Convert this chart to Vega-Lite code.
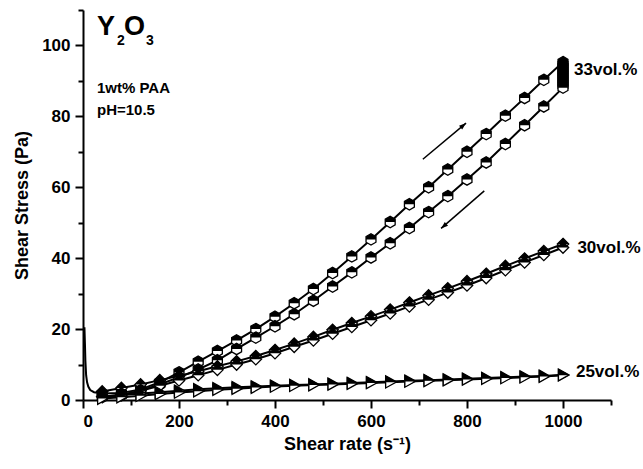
{
"$schema": "https://vega.github.io/schema/vega-lite/v6.json",
"width": 528, "height": 390,
"autosize": {"type": "none"},
"padding": {"left": 83, "top": 10, "right": 32, "bottom": 69},
"background": "white",
"config": {
 "view": {"stroke": null},
 "font": "Liberation Sans",
 "axis": {"grid": false, "domainColor": "black", "domainWidth": 2, "tickColor": "black", "tickWidth": 2, "labelColor": "black", "labelFont": "Liberation Sans", "labelFontWeight": "bold", "labelFontSize": 17, "titleFont": "Liberation Sans", "titleFontWeight": "bold", "titleFontSize": 18, "titleColor": "black"}
},
"datasets": {
 "curves": [
  {"s":"33","r":"u","i":40,"x":40,"y":1.8},{"s":"33","r":"u","i":80,"x":80,"y":2.0},{"s":"33","r":"u","i":120,"x":120,"y":3.0},{"s":"33","r":"u","i":160,"x":160,"y":5.0},{"s":"33","r":"u","i":200,"x":200,"y":7.8},{"s":"33","r":"u","i":240,"x":240,"y":10.8},{"s":"33","r":"u","i":280,"x":280,"y":13.8},{"s":"33","r":"u","i":320,"x":320,"y":16.8},{"s":"33","r":"u","i":360,"x":360,"y":20.0},{"s":"33","r":"u","i":400,"x":400,"y":23.5},{"s":"33","r":"u","i":440,"x":440,"y":27.3},{"s":"33","r":"u","i":480,"x":480,"y":31.3},{"s":"33","r":"u","i":520,"x":520,"y":35.8},{"s":"33","r":"u","i":560,"x":560,"y":40.5},{"s":"33","r":"u","i":600,"x":600,"y":45.3},{"s":"33","r":"u","i":640,"x":640,"y":50.2},{"s":"33","r":"u","i":680,"x":680,"y":55.2},{"s":"33","r":"u","i":720,"x":720,"y":60.0},{"s":"33","r":"u","i":760,"x":760,"y":65.0},{"s":"33","r":"u","i":800,"x":800,"y":70.0},{"s":"33","r":"u","i":840,"x":840,"y":75.0},{"s":"33","r":"u","i":880,"x":880,"y":80.2},{"s":"33","r":"u","i":920,"x":920,"y":85.2},{"s":"33","r":"u","i":960,"x":960,"y":90.3},{"s":"33","r":"u","i":1000,"x":1000,"y":95.3},
  {"s":"33","r":"u","i":1001,"x":1000,"y":94.7},{"s":"33","r":"u","i":1002,"x":1000,"y":94.1},{"s":"33","r":"u","i":1003,"x":1000,"y":93.5},{"s":"33","r":"u","i":1004,"x":1000,"y":92.9},{"s":"33","r":"u","i":1005,"x":1000,"y":92.3},{"s":"33","r":"u","i":1006,"x":1000,"y":91.7},{"s":"33","r":"u","i":1007,"x":1000,"y":91.1},{"s":"33","r":"u","i":1008,"x":1000,"y":90.5},{"s":"33","r":"u","i":1009,"x":1000,"y":89.9},{"s":"33","r":"u","i":1010,"x":1000,"y":89.3},{"s":"33","r":"u","i":1011,"x":1000,"y":88.7},
  {"s":"33","r":"d","i":2000,"x":1000,"y":88.1},{"s":"33","r":"d","i":2040,"x":960,"y":82.8},{"s":"33","r":"d","i":2080,"x":920,"y":77.5},{"s":"33","r":"d","i":2120,"x":880,"y":72.2},{"s":"33","r":"d","i":2160,"x":840,"y":67.0},{"s":"33","r":"d","i":2200,"x":800,"y":62.2},{"s":"33","r":"d","i":2240,"x":760,"y":57.5},{"s":"33","r":"d","i":2280,"x":720,"y":53.0},{"s":"33","r":"d","i":2320,"x":680,"y":48.5},{"s":"33","r":"d","i":2360,"x":640,"y":44.2},{"s":"33","r":"d","i":2400,"x":600,"y":40.2},{"s":"33","r":"d","i":2440,"x":560,"y":36.0},{"s":"33","r":"d","i":2480,"x":520,"y":32.0},{"s":"33","r":"d","i":2520,"x":480,"y":28.0},{"s":"33","r":"d","i":2560,"x":440,"y":24.2},{"s":"33","r":"d","i":2600,"x":400,"y":20.8},{"s":"33","r":"d","i":2640,"x":360,"y":17.6},{"s":"33","r":"d","i":2680,"x":320,"y":14.4},{"s":"33","r":"d","i":2720,"x":280,"y":11.2},{"s":"33","r":"d","i":2760,"x":240,"y":8.6},{"s":"33","r":"d","i":2800,"x":200,"y":6.4},{"s":"33","r":"d","i":2840,"x":160,"y":4.4},{"s":"33","r":"d","i":2880,"x":120,"y":2.6},{"s":"33","r":"d","i":2920,"x":80,"y":1.3},{"s":"33","r":"d","i":2960,"x":40,"y":0.8},
  {"s":"30","r":"u","i":40,"x":40,"y":2.4},{"s":"30","r":"u","i":80,"x":80,"y":3.4},{"s":"30","r":"u","i":120,"x":120,"y":4.4},{"s":"30","r":"u","i":160,"x":160,"y":5.6},{"s":"30","r":"u","i":200,"x":200,"y":6.8},{"s":"30","r":"u","i":240,"x":240,"y":8.1},{"s":"30","r":"u","i":280,"x":280,"y":9.5},{"s":"30","r":"u","i":320,"x":320,"y":10.9},{"s":"30","r":"u","i":360,"x":360,"y":12.4},{"s":"30","r":"u","i":400,"x":400,"y":14.1},{"s":"30","r":"u","i":440,"x":440,"y":15.9},{"s":"30","r":"u","i":480,"x":480,"y":17.8},{"s":"30","r":"u","i":520,"x":520,"y":19.8},{"s":"30","r":"u","i":560,"x":560,"y":21.7},{"s":"30","r":"u","i":600,"x":600,"y":23.6},{"s":"30","r":"u","i":640,"x":640,"y":25.5},{"s":"30","r":"u","i":680,"x":680,"y":27.5},{"s":"30","r":"u","i":720,"x":720,"y":29.5},{"s":"30","r":"u","i":760,"x":760,"y":31.5},{"s":"30","r":"u","i":800,"x":800,"y":33.5},{"s":"30","r":"u","i":840,"x":840,"y":35.6},{"s":"30","r":"u","i":880,"x":880,"y":37.8},{"s":"30","r":"u","i":920,"x":920,"y":39.9},{"s":"30","r":"u","i":960,"x":960,"y":42.0},{"s":"30","r":"u","i":1000,"x":1000,"y":44.0},
  {"s":"30","r":"d","i":2000,"x":1000,"y":43.0},{"s":"30","r":"d","i":2040,"x":960,"y":40.9},{"s":"30","r":"d","i":2080,"x":920,"y":38.8},{"s":"30","r":"d","i":2120,"x":880,"y":36.6},{"s":"30","r":"d","i":2160,"x":840,"y":34.4},{"s":"30","r":"d","i":2200,"x":800,"y":32.3},{"s":"30","r":"d","i":2240,"x":760,"y":30.3},{"s":"30","r":"d","i":2280,"x":720,"y":28.3},{"s":"30","r":"d","i":2320,"x":680,"y":26.4},{"s":"30","r":"d","i":2360,"x":640,"y":24.4},{"s":"30","r":"d","i":2400,"x":600,"y":22.5},{"s":"30","r":"d","i":2440,"x":560,"y":20.6},{"s":"30","r":"d","i":2480,"x":520,"y":18.7},{"s":"30","r":"d","i":2520,"x":480,"y":16.8},{"s":"30","r":"d","i":2560,"x":440,"y":15.0},{"s":"30","r":"d","i":2600,"x":400,"y":13.2},{"s":"30","r":"d","i":2640,"x":360,"y":11.5},{"s":"30","r":"d","i":2680,"x":320,"y":10.0},{"s":"30","r":"d","i":2720,"x":280,"y":8.5},{"s":"30","r":"d","i":2760,"x":240,"y":7.0},{"s":"30","r":"d","i":2800,"x":200,"y":5.5},{"s":"30","r":"d","i":2840,"x":160,"y":4.0},{"s":"30","r":"d","i":2880,"x":120,"y":2.6},{"s":"30","r":"d","i":2920,"x":80,"y":1.5},{"s":"30","r":"d","i":2960,"x":40,"y":0.9},
  {"s":"25","r":"u","i":40,"x":40,"y":0.9},{"s":"25","r":"u","i":80,"x":80,"y":1.4},{"s":"25","r":"u","i":120,"x":120,"y":1.8},{"s":"25","r":"u","i":160,"x":160,"y":2.2},{"s":"25","r":"u","i":200,"x":200,"y":2.6},{"s":"25","r":"u","i":240,"x":240,"y":3.0},{"s":"25","r":"u","i":280,"x":280,"y":3.3},{"s":"25","r":"u","i":320,"x":320,"y":3.6},{"s":"25","r":"u","i":360,"x":360,"y":3.8},{"s":"25","r":"u","i":400,"x":400,"y":4.0},{"s":"25","r":"u","i":440,"x":440,"y":4.2},{"s":"25","r":"u","i":480,"x":480,"y":4.4},{"s":"25","r":"u","i":520,"x":520,"y":4.6},{"s":"25","r":"u","i":560,"x":560,"y":4.8},{"s":"25","r":"u","i":600,"x":600,"y":5.0},{"s":"25","r":"u","i":640,"x":640,"y":5.2},{"s":"25","r":"u","i":680,"x":680,"y":5.4},{"s":"25","r":"u","i":720,"x":720,"y":5.6},{"s":"25","r":"u","i":760,"x":760,"y":5.8},{"s":"25","r":"u","i":800,"x":800,"y":6.0},{"s":"25","r":"u","i":840,"x":840,"y":6.2},{"s":"25","r":"u","i":880,"x":880,"y":6.4},{"s":"25","r":"u","i":920,"x":920,"y":6.6},{"s":"25","r":"u","i":960,"x":960,"y":6.8},{"s":"25","r":"u","i":1000,"x":1000,"y":7.1},
  {"s":"25","r":"d","i":2000,"x":1000,"y":7.0},{"s":"25","r":"d","i":2040,"x":960,"y":6.6},{"s":"25","r":"d","i":2080,"x":920,"y":6.4},{"s":"25","r":"d","i":2120,"x":880,"y":6.2},{"s":"25","r":"d","i":2160,"x":840,"y":6.0},{"s":"25","r":"d","i":2200,"x":800,"y":5.8},{"s":"25","r":"d","i":2240,"x":760,"y":5.6},{"s":"25","r":"d","i":2280,"x":720,"y":5.4},{"s":"25","r":"d","i":2320,"x":680,"y":5.2},{"s":"25","r":"d","i":2360,"x":640,"y":5.0},{"s":"25","r":"d","i":2400,"x":600,"y":4.8},{"s":"25","r":"d","i":2440,"x":560,"y":4.6},{"s":"25","r":"d","i":2480,"x":520,"y":4.4},{"s":"25","r":"d","i":2520,"x":480,"y":4.2},{"s":"25","r":"d","i":2560,"x":440,"y":4.0},{"s":"25","r":"d","i":2600,"x":400,"y":3.8},{"s":"25","r":"d","i":2640,"x":360,"y":3.5},{"s":"25","r":"d","i":2680,"x":320,"y":3.2},{"s":"25","r":"d","i":2720,"x":280,"y":2.9},{"s":"25","r":"d","i":2760,"x":240,"y":2.5},{"s":"25","r":"d","i":2800,"x":200,"y":2.1},{"s":"25","r":"d","i":2840,"x":160,"y":1.7},{"s":"25","r":"d","i":2880,"x":120,"y":1.2},{"s":"25","r":"d","i":2920,"x":80,"y":0.8},{"s":"25","r":"d","i":2960,"x":40,"y":0.4}
 ],
 "spike": [
  {"x":3,"y":20.5},{"x":4,"y":16},{"x":5,"y":11},{"x":6.5,"y":7},{"x":8.5,"y":5},{"x":11,"y":3.8},{"x":15,"y":2.8},{"x":23,"y":2.2},{"x":40,"y":1.8}
 ],
 "arrows": [
  {"d":"up","x":708,"y":67.9,"x2":798,"y2":78.1},
  {"d":"down","x":836,"y":59.0,"x2":746,"y2":48.4}
 ],
 "notes": [
  {"k":"big","t":"Y","x":29.1,"y":103},
  {"k":"sub","t":"2","x":70.7,"y":100.1},
  {"k":"big","t":"O","x":85.3,"y":103},
  {"k":"sub","t":"3","x":131,"y":100.1},
  {"k":"note","t":"1wt% PAA","x":29.1,"y":86.6},
  {"k":"note","t":"pH=10.5","x":29.1,"y":80.4},
  {"k":"vol","t":"33vol.%","x":1023,"y":91.7},
  {"k":"vol","t":"30vol.%","x":1030,"y":41.5},
  {"k":"vol","t":"25vol.%","x":1027,"y":6.6}
 ]
},
"encoding": {
 "x": {"field": "x", "type": "quantitative", "scale": {"domain": [0, 1100], "nice": false, "zero": false}, "axis": null},
 "y": {"field": "y", "type": "quantitative", "scale": {"domain": [0, 110], "nice": false, "zero": false}, "axis": null}
},
"layer": [
 {
  "data": {"name": "curves"},
  "mark": {"type": "line", "color": "black", "strokeWidth": 2},
  "encoding": {
   "x": {"field": "x", "type": "quantitative", "scale": {"domain": [0, 1100], "nice": false, "zero": false},
         "axis": {"orient": "bottom", "values": [0, 200, 400, 600, 800, 1000], "format": "d", "tickSize": 8, "labelPadding": 5, "title": "Shear rate (s⁻¹)", "titlePadding": 6}},
   "y": {"field": "y", "type": "quantitative", "scale": {"domain": [0, 110], "nice": false, "zero": false},
         "axis": {"orient": "left", "values": [0, 20, 40, 60, 80, 100], "format": "d", "tickSize": 8, "labelPadding": 5, "title": "Shear Stress (Pa)", "titlePadding": 10}},
   "detail": [{"field": "s"}, {"field": "r"}],
   "order": {"field": "i", "type": "quantitative"}
  }
 },
 {
  "data": {"name": "spike"},
  "mark": {"type": "line", "color": "black", "strokeWidth": 2},
  "encoding": {
   "x": {"field": "x", "type": "quantitative", "scale": {"domain": [0, 1100], "nice": false, "zero": false},
         "axis": {"orient": "bottom", "values": [100, 300, 500, 700, 900, 1100], "tickSize": 5, "labels": false, "domain": false, "title": null}},
   "y": {"field": "y", "type": "quantitative", "scale": {"domain": [0, 110], "nice": false, "zero": false},
         "axis": {"orient": "left", "values": [10, 30, 50, 70, 90, 110], "tickSize": 5, "labels": false, "domain": false, "title": null}}
  }
 },
 {
  "data": {"name": "curves"},
  "mark": {"type": "point", "filled": true, "fill": "white", "stroke": "black", "strokeWidth": 1.3, "size": 130, "opacity": 1},
  "encoding": {
   "shape": {"field": "s", "type": "nominal", "legend": null,
     "scale": {"domain": ["33", "30", "25"], "range": ["M0,-1L0.87,-0.5L0.87,0.5L0,1L-0.87,0.5L-0.87,-0.5Z", "M0,-1L1,0L0,1L-1,0Z", "M-0.8,-1L1,0L-0.8,1Z"]}}
  }
 },
 {
  "data": {"name": "curves"},
  "mark": {"type": "point", "filled": true, "fill": "black", "strokeWidth": 0, "size": 130, "opacity": 1},
  "encoding": {
   "shape": {"field": "s", "type": "nominal", "legend": null,
     "scale": {"domain": ["33", "30", "25"], "range": ["M-0.87,0L-0.87,-0.5L0,-1L0.87,-0.5L0.87,0Z", "M-1,0L0,-1L1,0Z", "M-0.8,-1L1,0L-0.8,0Z"]}}
  }
 },
 {
  "data": {"name": "arrows"},
  "mark": {"type": "rule", "color": "black", "strokeWidth": 1.5},
  "encoding": {
   "x2": {"field": "x2"},
   "y2": {"field": "y2"}
  }
 },
 {
  "data": {"name": "arrows"},
  "transform": [{"filter": "datum.d == 'up'"}],
  "mark": {"type": "point", "filled": true, "color": "black", "size": 200, "angle": 50, "shape": "M0,0L0.35,1L-0.35,1Z", "opacity": 1},
  "encoding": {
   "x": {"field": "x2", "type": "quantitative", "scale": {"domain": [0, 1100], "nice": false, "zero": false}, "axis": null},
   "y": {"field": "y2", "type": "quantitative", "scale": {"domain": [0, 110], "nice": false, "zero": false}, "axis": null}
  }
 },
 {
  "data": {"name": "arrows"},
  "transform": [{"filter": "datum.d == 'down'"}],
  "mark": {"type": "point", "filled": true, "color": "black", "size": 200, "angle": 229, "shape": "M0,0L0.35,1L-0.35,1Z", "opacity": 1},
  "encoding": {
   "x": {"field": "x2", "type": "quantitative", "scale": {"domain": [0, 1100], "nice": false, "zero": false}, "axis": null},
   "y": {"field": "y2", "type": "quantitative", "scale": {"domain": [0, 110], "nice": false, "zero": false}, "axis": null}
  }
 },
 {
  "data": {"name": "notes"},
  "transform": [{"filter": "datum.k == 'big'"}],
  "mark": {"type": "text", "align": "left", "baseline": "alphabetic", "font": "Liberation Sans", "fontWeight": "bold", "fontSize": 27, "color": "black"},
  "encoding": {"text": {"field": "t"}}
 },
 {
  "data": {"name": "notes"},
  "transform": [{"filter": "datum.k == 'sub'"}],
  "mark": {"type": "text", "align": "left", "baseline": "alphabetic", "font": "Liberation Sans", "fontWeight": "bold", "fontSize": 14, "color": "black"},
  "encoding": {"text": {"field": "t"}}
 },
 {
  "data": {"name": "notes"},
  "transform": [{"filter": "datum.k == 'note'"}],
  "mark": {"type": "text", "align": "left", "baseline": "alphabetic", "font": "Liberation Sans", "fontWeight": "bold", "fontSize": 15, "color": "black"},
  "encoding": {"text": {"field": "t"}}
 },
 {
  "data": {"name": "notes"},
  "transform": [{"filter": "datum.k == 'vol'"}],
  "mark": {"type": "text", "align": "left", "baseline": "alphabetic", "font": "Liberation Sans", "fontWeight": "bold", "fontSize": 17, "color": "black"},
  "encoding": {"text": {"field": "t"}}
 }
],
"resolve": {"scale": {"shape": "independent"}, "axis": {"x": "independent", "y": "independent"}}
}
